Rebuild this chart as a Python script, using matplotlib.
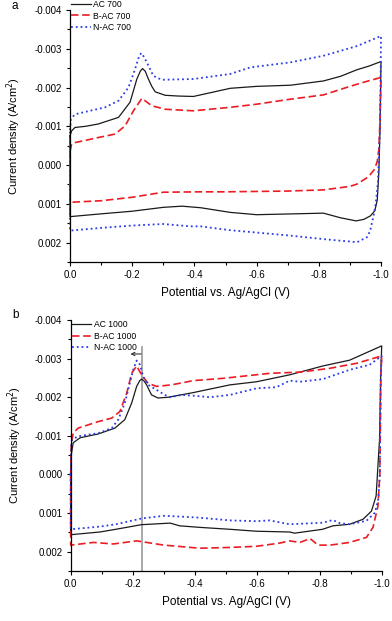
import numpy as np
import matplotlib
matplotlib.use("Agg")
import matplotlib.pyplot as plt
from matplotlib.ticker import MultipleLocator, FormatStrFormatter

plt.rcParams["font.family"] = ["Liberation Sans", "DejaVu Sans"]
plt.rcParams["axes.unicode_minus"] = False

# ---- panel a: 700 series (potential V, current A/cm2) ----
ac700_up_v = [0.0, -0.005, -0.016, -0.05, -0.091, -0.156, -0.193, -0.215, -0.226, -0.233, -0.242, -0.252,
              -0.263, -0.274, -0.306, -0.35, -0.397, -0.515, -0.6, -0.709, -0.815, -0.87, -0.923, -0.96, -1.0]
ac700_up_i = [-0.00075, -0.00088, -0.00097, -0.001, -0.00106, -0.00123, -0.00162, -0.00222, -0.00242, -0.00249,
              -0.00242, -0.00222, -0.00203, -0.00189, -0.0018, -0.00178, -0.00177, -0.00198, -0.00203, -0.00206,
              -0.00217, -0.00229, -0.00246, -0.00255, -0.00267]
ac700_dn_v = [-1.0, -0.997, -0.993, -0.988, -0.98, -0.966, -0.945, -0.92, -0.87, -0.815, -0.709, -0.6, -0.515,
              -0.42, -0.36, -0.3, -0.2, -0.097, 0.0]
ac700_dn_i = [-0.00267, -0.001, 0.0002, 0.0009, 0.00118, 0.00131, 0.0014, 0.00144, 0.00136, 0.00124, 0.00126,
              0.00128, 0.00122, 0.0011, 0.00106, 0.00109, 0.00119, 0.00126, 0.00133]

bac700_up_v = [0.0, -0.005, -0.016, -0.091, -0.145, -0.177, -0.204, -0.231, -0.263, -0.306, -0.397, -0.515,
               -0.6, -0.709, -0.815, -0.9, -0.95, -1.0]
bac700_up_i = [-0.00035, -0.00054, -0.00058, -0.00071, -0.0008, -0.00101, -0.0014, -0.00172, -0.00153, -0.00144,
               -0.0014, -0.00149, -0.00157, -0.0017, -0.00181, -0.00203, -0.00215, -0.00226]
bac700_dn_v = [-1.0, -0.997, -0.993, -0.988, -0.98, -0.97, -0.96, -0.923, -0.9, -0.815, -0.7, -0.6, -0.5,
               -0.42, -0.3, -0.2, -0.1, 0.0]
bac700_dn_i = [-0.00226, -0.0012, -0.0004, -0.0001, 0.0001, 0.0002, 0.0003, 0.00049, 0.00055, 0.00064, 0.00067,
               0.00068, 0.00069, 0.00069, 0.0007, 0.00083, 0.00092, 0.00096]

nac700_up_v = [0.0, -0.003, -0.016, -0.048, -0.113, -0.156, -0.188, -0.209, -0.222, -0.229, -0.237, -0.247,
               -0.268, -0.295, -0.397, -0.515, -0.58, -0.709, -0.815, -0.923, -1.0]
nac700_up_i = [-0.0009, -0.00119, -0.00131, -0.00137, -0.00149, -0.00166, -0.002, -0.00247, -0.0028, -0.00289,
               -0.0028, -0.00265, -0.0023, -0.0022, -0.00222, -0.00235, -0.00252, -0.00265, -0.00282, -0.00307,
               -0.00333]
nac700_dn_v = [-1.0, -0.997, -0.99, -0.983, -0.976, -0.965, -0.955, -0.923, -0.815, -0.709, -0.6, -0.515,
               -0.42, -0.387, -0.3, -0.2, -0.1, 0.0]
nac700_dn_i = [-0.00333, -0.001, 0.00045, 0.001, 0.00131, 0.0017, 0.00186, 0.00199, 0.00191, 0.00182, 0.00174,
               0.00168, 0.00158, 0.00158, 0.00152, 0.00156, 0.00162, 0.00169]

# ---- panel b: 1000 series ----
ac1000_up_v = [0.0, -0.001, -0.008, -0.03, -0.089, -0.142, -0.174, -0.196, -0.212, -0.222, -0.228, -0.236,
               -0.244, -0.26, -0.281, -0.314, -0.394, -0.512, -0.597, -0.704, -0.811, -0.897, -1.0]
ac1000_up_i = [0.0, -0.00047, -0.00082, -0.00095, -0.00105, -0.0012, -0.00142, -0.00185, -0.00228, -0.00243,
               -0.00247, -0.00242, -0.00232, -0.00206, -0.00198, -0.002, -0.00212, -0.00232, -0.0024, -0.00258,
               -0.00281, -0.00296, -0.00333]
ac1000_dn_v = [-1.0, -0.997, -0.993, -0.982, -0.967, -0.94, -0.897, -0.843, -0.81, -0.72, -0.704, -0.597,
               -0.512, -0.415, -0.35, -0.32, -0.228, -0.145, -0.094, 0.0]
ac1000_dn_i = [-0.00333, -0.0026, -0.0009, 0.00056, 0.00095, 0.00116, 0.00129, 0.00133, 0.00142, 0.00152,
               0.00149, 0.00147, 0.00142, 0.00137, 0.00133, 0.00126, 0.0013, 0.00142, 0.00149, 0.00156]

bac1000_up_v = [0.0, -0.002, -0.008, -0.024, -0.089, -0.132, -0.158, -0.18, -0.196, -0.212, -0.228, -0.249,
                -0.276, -0.324, -0.394, -0.491, -0.641, -0.737, -0.834, -0.92, -1.0]
bac1000_up_i = [0.0, -0.0008, -0.00107, -0.0012, -0.00137, -0.00146, -0.00163, -0.0021, -0.00262, -0.00281,
                -0.00258, -0.00236, -0.00228, -0.00232, -0.00243, -0.00249, -0.00262, -0.00265, -0.00275,
                -0.00288, -0.00307]
bac1000_dn_v = [-1.0, -0.997, -0.994, -0.988, -0.972, -0.951, -0.897, -0.834, -0.795, -0.77, -0.737, -0.704,
                -0.67, -0.597, -0.512, -0.415, -0.3, -0.212, -0.137, -0.073, 0.0]
bac1000_dn_i = [-0.00307, -0.0025, 0.0, 0.00082, 0.00137, 0.00163, 0.00176, 0.00183, 0.00183, 0.00166, 0.00176,
                0.00172, 0.00178, 0.00186, 0.00189, 0.00191, 0.00183, 0.00172, 0.0018, 0.00176, 0.00183]

nac1000_up_v = [0.0, -0.002, -0.004, -0.024, -0.089, -0.132, -0.153, -0.174, -0.19, -0.201, -0.212, -0.223,
                -0.233, -0.249, -0.276, -0.303, -0.319, -0.357, -0.394, -0.448, -0.512, -0.597, -0.661, -0.704,
                -0.737, -0.811, -0.897, -0.961, -1.0]
nac1000_up_i = [0.0, -0.0007, -0.0009, -0.00099, -0.00107, -0.0012, -0.00142, -0.00185, -0.00236, -0.00271,
                -0.00295, -0.00284, -0.00253, -0.00232, -0.00219, -0.00206, -0.002, -0.00206, -0.00204, -0.002,
                -0.00206, -0.00223, -0.00226, -0.00243, -0.0024, -0.00247, -0.00271, -0.00284, -0.00307]
nac1000_dn_v = [-1.0, -0.997, -0.994, -0.989, -0.978, -0.951, -0.897, -0.865, -0.843, -0.81, -0.704, -0.64,
                -0.597, -0.512, -0.415, -0.351, -0.3, -0.228, -0.145, -0.094, 0.0]
nac1000_dn_i = [-0.00307, -0.0026, 0.0, 0.00064, 0.00099, 0.0012, 0.00129, 0.00126, 0.00118, 0.00125, 0.00129,
                0.00119, 0.00121, 0.00119, 0.00112, 0.00109, 0.00107, 0.00114, 0.00129, 0.00135, 0.00142]

peak_marker_v = -0.228   # grey guide line in panel b

BLACK = "#1a1a1a"
RED = "#ec1c24"
BLUE = "#2b3ce6"


def loop(up_v, up_i, dn_v, dn_i):
  v = np.concatenate([up_v, dn_v, up_v[:1]])
  i = np.concatenate([up_i, dn_i, up_i[:1]])
  return v, i


def style_axes(ax):
  ax.set_xlim(0.0, -1.0)
  ax.set_ylim(0.0025, -0.004)
  for s in ("top", "right"):
    ax.spines[s].set_visible(False)
  for s in ("left", "bottom"):
    ax.spines[s].set_linewidth(0.9)
  ax.xaxis.set_major_locator(MultipleLocator(0.2))
  ax.xaxis.set_minor_locator(MultipleLocator(0.1))
  ax.yaxis.set_major_locator(MultipleLocator(0.001))
  ax.yaxis.set_minor_locator(MultipleLocator(0.0005))
  ax.xaxis.set_major_formatter(FormatStrFormatter("%.1f"))
  ax.yaxis.set_major_formatter(FormatStrFormatter("%.3f"))
  ax.tick_params(which="both", direction="out", width=0.8, labelsize=7)
  ax.tick_params(which="major", length=3)
  ax.tick_params(which="minor", length=2)
  ax.tick_params(axis="x", pad=3)
  ax.tick_params(axis="y", pad=3)
  ax.set_xlabel("Potential vs. Ag/AgCl (V)", fontsize=8.5)
  ax.set_ylabel("Current density (A/cm$^2$)", fontsize=8)
  ax.yaxis.set_label_coords(-0.15, 0.5)
  ax.xaxis.set_label_coords(0.5, -0.1)


def draw(ax, series, legend_top):
  for (v, i), lab, col, ls, lw in series:
    ax.plot(v, i, color=col, linestyle=ls, lw=lw, label=lab, clip_on=False)
  leg = ax.legend(loc="upper left", bbox_to_anchor=(0.003, legend_top), frameon=False, fontsize=6.2,
                  borderpad=0, borderaxespad=0, handlelength=2.3, handletextpad=0.3, labelspacing=0.3)
  return leg


fig = plt.figure(figsize=(3.92, 6.21), dpi=100)
ax_a = fig.add_axes([70 / 392, 1 - 262 / 621, 311 / 392, 252 / 621])
ax_b = fig.add_axes([70.7 / 392, 1 - 571 / 621, 311 / 392, 251 / 621])

dash = (0, (4.5, 2.2))
series_a = [
  (loop(ac700_up_v, ac700_up_i, ac700_dn_v, ac700_dn_i), "AC 700", BLACK, "-", 0.9),
  (loop(bac700_up_v, bac700_up_i, bac700_dn_v, bac700_dn_i), "B-AC 700", RED, dash, 1.2),
  (loop(nac700_up_v, nac700_up_i, nac700_dn_v, nac700_dn_i), "N-AC 700", BLUE, ":", 1.3),
]
series_b = [
  (loop(ac1000_up_v, ac1000_up_i, ac1000_dn_v, ac1000_dn_i), "AC 1000", BLACK, "-", 0.9),
  (loop(bac1000_up_v, bac1000_up_i, bac1000_dn_v, bac1000_dn_i), "B-AC 1000", RED, dash, 1.2),
  (loop(nac1000_up_v, nac1000_up_i, nac1000_dn_v, nac1000_dn_i), "N-AC 1000", BLUE, ":", 1.3),
]

style_axes(ax_a)
draw(ax_a, series_a, 1.04)
style_axes(ax_b)
draw(ax_b, series_b, 1.0)

# grey guide line at the peak and shift arrow in panel b
ax_b.plot([peak_marker_v, peak_marker_v], [0.0025, -0.00331], color="#999999", lw=1.2, zorder=1)
ax_b.annotate("", xy=(-0.183, -0.00312), xytext=(-0.235, -0.00312),
              arrowprops=dict(arrowstyle="->", color="#333333", lw=0.8, mutation_scale=6))

fig.text(15 / 392, 1 - 6 / 621, "a", fontsize=8.5, ha="center", va="center")
fig.text(16 / 392, 1 - 315 / 621, "b", fontsize=8.5, ha="center", va="center")

fig.savefig("out.png", dpi=100)
